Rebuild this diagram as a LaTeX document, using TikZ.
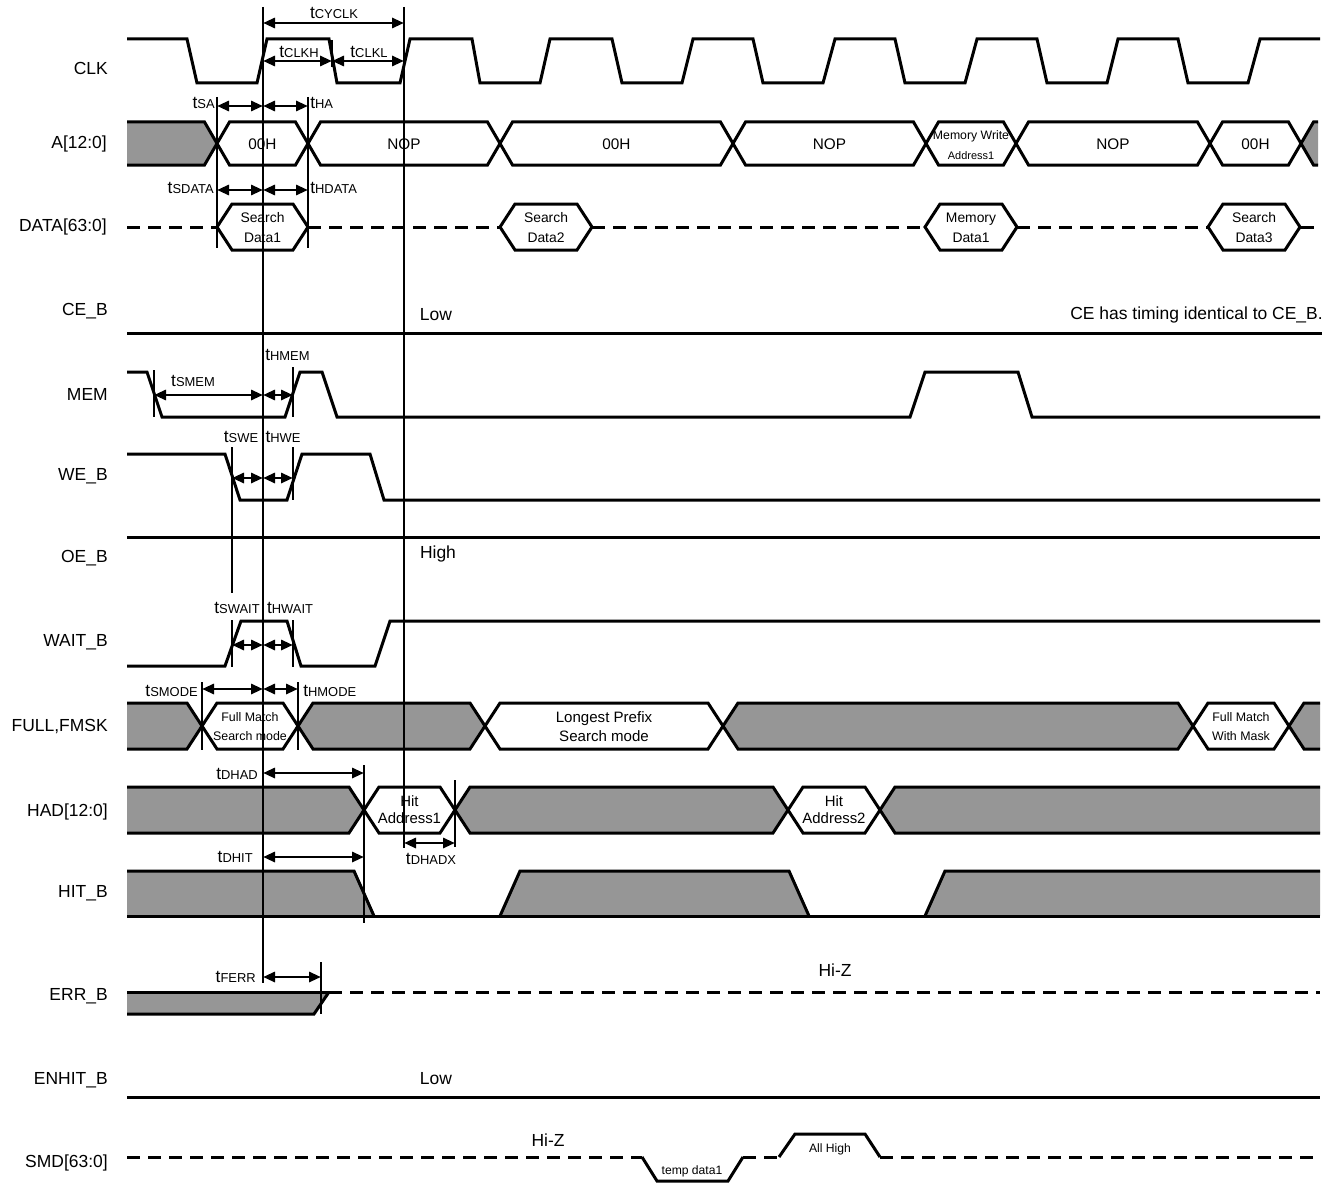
\documentclass[tikz,border=0pt]{standalone}
\usepackage{fontspec}
\setmainfont{Liberation Sans}
\usetikzlibrary{arrows.meta}
\definecolor{busgray}{RGB}{150,150,150}
\tikzset{
  sig/.style={line width=2.25pt},
  thinl/.style={line width=0.9pt},
  dimarr/.style={line width=2.2pt,{Triangle[length=9pt,width=7.5pt]}-{Triangle[length=9pt,width=7.5pt]}},
  hz/.style={sig,dash pattern=on 9.75pt off 6pt},
  sname/.style={anchor=east,font=\fontsize{13.1}{15}\selectfont,inner sep=0pt},
  note/.style={font=\fontsize{13.1}{15}\selectfont,inner sep=0pt},
  blab/.style={font=\fontsize{11.5}{13}\selectfont,inner sep=0pt},
  blabd/.style={font=\fontsize{10.4}{15}\selectfont,align=center,inner sep=0pt},
  blabm/.style={font=\fontsize{9.3}{14.25}\selectfont,align=center,inner sep=0pt},
  blabh/.style={font=\fontsize{11.2}{12.75}\selectfont,align=center,inner sep=0pt},
  blabl/.style={font=\fontsize{11.3}{14.25}\selectfont,align=center,inner sep=0pt},
  small/.style={font=\fontsize{9.1}{11}\selectfont,inner sep=0pt},
  tl/.style={inner sep=0pt},
}
\newcommand\tlab[1]{{\fontsize{13}{14}\selectfont t}{\fontsize{9.7}{10}\selectfont #1}}
\newcommand\hexseg[3]{%
  \filldraw[sig,fill=#3] (#1,\bmid) -- ({#1+\bhw},\btop) -- ({#2-\bhw},\btop) -- (#2,\bmid) -- ({#2-\bhw},\bbot) -- ({#1+\bhw},\bbot) -- cycle;}
\newcommand\leftseg[3]{%
  \fill[#3] (#1,\btop) -- ({#2-\bhw},\btop) -- (#2,\bmid) -- ({#2-\bhw},\bbot) -- (#1,\bbot) -- cycle;
  \draw[sig] (#1,\btop) -- ({#2-\bhw},\btop) -- (#2,\bmid) -- ({#2-\bhw},\bbot) -- (#1,\bbot);}
\newcommand\rightseg[3]{%
  \fill[#3] (#1,\bmid) -- ({#1+\bhw},\btop) -- (#2,\btop) -- (#2,\bbot) -- ({#1+\bhw},\bbot) -- cycle;
  \draw[sig] (#2,\btop) -- ({#1+\bhw},\btop) -- (#1,\bmid) -- ({#1+\bhw},\bbot) -- (#2,\bbot);}
\newcommand\dimline[4]{\coordinate (#1a) at (#2,#4); \coordinate (#1b) at (#3,#4); \draw[dimarr] (#1a) -- (#1b);}
\newcommand\vmark[4]{\coordinate (#1t) at (#2,#3); \coordinate (#1u) at (#2,#4); \draw[thinl] (#1t) -- (#1u);}
\begin{document}
\begin{tikzpicture}[x=0.75pt,y=-0.75pt]
\useasboundingbox (0,0) rectangle (1337,1184);
% ---------- signal names ----------
\node[sname] (nclk) at (108,68) {CLK};
\node[sname] (na) at (107,144) {A[12:0]};
\node[sname] (ndata) at (107,227) {DATA[63:0]};
\node[sname] (nce) at (108,311) {CE\_B};
\node[sname] (nmem) at (108,394) {MEM};
\node[sname] (nwe) at (108,476) {WE\_B};
\node[sname] (noe) at (108,558) {OE\_B};
\node[sname] (nwait) at (108,642) {WAIT\_B};
\node[sname] (nfull) at (108,727) {FULL,FMSK};
\node[sname] (nhad) at (108,812) {HAD[12:0]};
\node[sname] (nhit) at (108,893) {HIT\_B};
\node[sname] (nerr) at (108,996) {ERR\_B};
\node[sname] (nenhit) at (108,1080) {ENHIT\_B};
\node[sname] (nsmd) at (108,1163) {SMD[63:0]};
% ---------- CLK ----------
\draw[sig] (127,39) -- (187,39) -- (197,83) -- (257,83) -- (267,39) -- (329,39) -- (337,83) -- (400,83) -- (410,39)
  -- (472,39) -- (480,83) -- (540,83) -- (550,39) -- (612,39) -- (622,83) -- (682,83) -- (693,39)
  -- (753,39) -- (763,83) -- (823,83) -- (835,39) -- (895,39) -- (905,83) -- (965,83) -- (977,39)
  -- (1037,39) -- (1047,83) -- (1107,83) -- (1118,39) -- (1178,39) -- (1188,83) -- (1248,83) -- (1260,39) -- (1320,39);
% ---------- A bus ----------
\def\btop{122}\def\bbot{165}\def\bmid{143.5}\def\bhw{12.5}
\leftseg{127}{217}{busgray}
\hexseg{217}{308}{white}
\hexseg{308}{500}{white}
\hexseg{500}{733}{white}
\hexseg{733}{926}{white}
\hexseg{926}{1016}{white}
\hexseg{1016}{1210}{white}
\hexseg{1210}{1301}{white}
\rightseg{1301}{1318}{busgray}
\node[blab] (a1) at (262.5,144) {00H};
\node[blab] (a2) at (404,144) {NOP};
\node[blab] (a3) at (616.5,144) {00H};
\node[blab] (a4) at (829.5,144) {NOP};
\node[align=center,inner sep=0pt] (a5) at (971,145) {{\fontsize{9.2}{11}\selectfont Memory Write}\\[3pt]{\fontsize{8.2}{10}\selectfont Address1}};
\node[blab] (a6) at (1113,144) {NOP};
\node[blab] (a7) at (1255.5,144) {00H};
% ---------- DATA ----------
\def\btop{204}\def\bbot{250}\def\bmid{227}\def\bhw{15}
\draw[hz] (127,227) -- (217,227);
\draw[hz] (308,227) -- (500,227);
\draw[hz] (592,227) -- (925,227);
\draw[hz] (1017,227) -- (1208,227);
\draw[sig] (1300,227) -- (1314,227);
\hexseg{217}{308}{white}
\hexseg{500}{592}{white}
\hexseg{925}{1017}{white}
\hexseg{1208}{1300}{white}
\node[blabd] (d1) at (262.5,228) {Search\\Data1};
\node[blabd] (d2) at (546,228) {Search\\Data2};
\node[blabd] (d3) at (971,228) {Memory\\Data1};
\node[blabd] (d4) at (1254,228) {Search\\Data3};
% ---------- CE_B ----------
\draw[sig] (127,333) -- (1322,333);
\node[note] (celow) at (436,315) {Low};
\node[note,anchor=east] (cenote) at (1323,315) {CE has timing identical to CE\_B.};
% ---------- MEM ----------
\draw[sig] (127,372) -- (147,372) -- (162,417) -- (285,417) -- (300,372) -- (322,372) -- (337,417) -- (910,417) -- (925,372) -- (1018,372) -- (1032,417) -- (1320,417);
% ---------- WE_B ----------
\draw[sig] (127,454) -- (225,454) -- (240,500) -- (287,500) -- (302,454) -- (370,454) -- (384,500) -- (1320,500);
% ---------- OE_B ----------
\draw[sig] (127,537) -- (1320,537);
\node[note] (oehigh) at (438,554) {High};
% ---------- WAIT_B ----------
\draw[sig] (127,666) -- (225,666) -- (241,621) -- (287,621) -- (301,666) -- (375,666) -- (390,621) -- (1320,621);
% ---------- FULL,FMSK ----------
\def\btop{703}\def\bbot{749}\def\bmid{726}\def\bhw{15}
\leftseg{127}{202}{busgray}
\hexseg{202}{298}{white}
\hexseg{298}{485}{busgray}
\hexseg{485}{723}{white}
\hexseg{723}{1193}{busgray}
\hexseg{1193}{1289}{white}
\rightseg{1289}{1320}{busgray}
\node[blabm] (f1) at (250,727) {Full Match\\Search mode};
\node[blabl] (f2) at (604,727) {Longest Prefix\\Search mode};
\node[blabm] (f3) at (1241,727) {Full Match\\With Mask};
% ---------- HAD ----------
\def\btop{787}\def\bbot{833}\def\bmid{810}\def\bhw{15}
\leftseg{127}{364}{busgray}
\hexseg{364}{455}{white}
\hexseg{455}{788}{busgray}
\hexseg{788}{880}{white}
\rightseg{880}{1320}{busgray}
\node[blabh] (h1) at (409.5,810) {Hit\\Address1};
\node[blabh] (h2) at (834,810) {Hit\\Address2};
% ---------- HIT_B ----------
\fill[busgray] (127,871) -- (354,871) -- (374,916) -- (127,916) -- cycle;
\fill[busgray] (500,916) -- (520,871) -- (789,871) -- (809,916) -- cycle;
\fill[busgray] (925,916) -- (945,871) -- (1320,871) -- (1320,916) -- cycle;
\draw[sig] (127,871) -- (354,871) -- (374,916);
\draw[sig] (500,916) -- (520,871) -- (789,871) -- (809,916);
\draw[sig] (925,916) -- (945,871) -- (1320,871);
\draw[sig] (127,916) -- (1320,916);
% ---------- ERR_B ----------
\fill[busgray] (127,992) -- (329,992) -- (314,1014) -- (127,1014) -- cycle;
\draw[sig] (127,992) -- (329,992);
\draw[sig] (127,1014) -- (314,1014) -- (329,992);
\draw[hz] (329,992) -- (1320,992);
\node[note] (errhz) at (835,970) {Hi-Z};
% ---------- ENHIT_B ----------
\draw[sig] (127,1097) -- (1320,1097);
\node[note] (enlow) at (436,1079) {Low};
% ---------- SMD ----------
\draw[hz] (127,1157) -- (642,1157);
\draw[sig] (642,1157) -- (657,1181) -- (728,1181) -- (743,1157);
\draw[hz] (743,1157) -- (779,1157);
\draw[sig] (779,1157) -- (795,1134) -- (865,1134) -- (880,1157);
\draw[hz] (880,1157) -- (1320,1157);
\node[note] (smdhz) at (548,1140) {Hi-Z};
\node[small] (tmp) at (692,1171) {temp data1};
\node[small] (allh) at (830,1149) {All High};
% ---------- vertical reference lines ----------
\vmark{v263}{263}{7}{983}
\vmark{v404}{404}{7}{848}
\vmark{v332}{332}{40}{67}
\vmark{v217}{217}{97}{248}
\vmark{v308}{308}{97}{248}
\vmark{v154}{154}{370}{417}
\vmark{v293a}{293}{367}{417}
\vmark{v232a}{232}{447}{593}
\vmark{v232b}{232}{620}{667}
\vmark{v293b}{293}{447}{500}
\vmark{v293c}{293}{620}{667}
\vmark{v202}{202}{682}{750}
\vmark{v298}{298}{682}{750}
\vmark{v364}{364}{765}{923}
\vmark{v455}{455}{780}{847}
\vmark{v321}{321}{962}{1014}
% ---------- dimension arrows ----------
\dimline{cyc}{263}{404}{23}
\dimline{clkh}{263}{332}{61}
\dimline{clkl}{332}{404}{61}
\dimline{sa}{217}{263}{106}
\dimline{ha}{263}{308}{106}
\dimline{sd}{217}{263}{190}
\dimline{hd}{263}{308}{190}
\dimline{smem}{154}{263}{395}
\dimline{hmem}{263}{293}{395}
\dimline{swe}{232}{263}{478}
\dimline{hwe}{263}{293}{478}
\dimline{swait}{232}{263}{645}
\dimline{hwait}{263}{293}{645}
\dimline{smode}{202}{263}{689}
\dimline{hmode}{263}{298}{689}
\dimline{dhad}{263}{364}{773}
\dimline{dhit}{263}{364}{857}
\dimline{dhadx}{404}{455}{843}
\dimline{ferr}{263}{321}{977}
% ---------- timing labels ----------
\node[tl] (lcyc) at (334,13) {\tlab{CYCLK}};
\node[tl] (lclkh) at (299,52) {\tlab{CLKH}};
\node[tl] (lclkl) at (369,52) {\tlab{CLKL}};
\node[tl,anchor=east] (lsa) at (215,103) {\tlab{SA}};
\node[tl,anchor=west] (lha) at (310,103) {\tlab{HA}};
\node[tl,anchor=east] (lsd) at (214,188) {\tlab{SDATA}};
\node[tl,anchor=west] (lhd) at (310,188) {\tlab{HDATA}};
\node[tl,anchor=west] (lhmem) at (265,355) {\tlab{HMEM}};
\node[tl] (lsmem) at (193,381) {\tlab{SMEM}};
\node[tl] (lswe) at (241,437) {\tlab{SWE}};
\node[tl] (lhwe) at (283,437) {\tlab{HWE}};
\node[tl] (lswait) at (237,608) {\tlab{SWAIT}};
\node[tl] (lhwait) at (290,608) {\tlab{HWAIT}};
\node[tl,anchor=east] (lsmode) at (198,691) {\tlab{SMODE}};
\node[tl,anchor=west] (lhmode) at (303,691) {\tlab{HMODE}};
\node[tl,anchor=east] (ldhad) at (258,774) {\tlab{DHAD}};
\node[tl,anchor=east] (ldhit) at (253,857) {\tlab{DHIT}};
\node[tl] (ldhadx) at (431,859) {\tlab{DHADX}};
\node[tl,anchor=east] (lferr) at (256,977) {\tlab{FERR}};
\end{tikzpicture}
\end{document}
